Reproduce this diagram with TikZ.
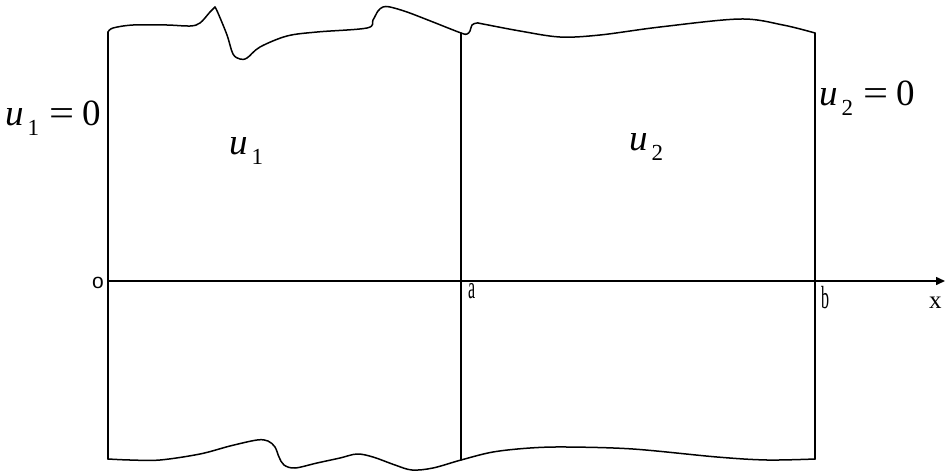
\documentclass[tikz,border=0pt]{standalone}
\usepackage{fontspec}
\setmainfont{Liberation Serif}
\newfontfamily\sansf{Liberation Sans}
\usetikzlibrary{arrows.meta}
\newcommand\ulab[1]{\textit{u}\kern4pt\raisebox{-10pt}{\fontsize{23}{23}\selectfont #1}}
\newcommand\eqsign{\scalebox{1.2}[1]{=}}
\begin{document}
\begin{tikzpicture}[x=1pt,y=-1pt,
  edge/.style={line width=1.5pt, line join=round, line cap=round},
  big/.style={inner sep=0pt, anchor=base west, font=\fontsize{37}{37}\selectfont},
  small/.style={inner sep=0pt, anchor=base west, font=\fontsize{32}{32}\selectfont},
  tick/.style={inner sep=0pt, anchor=base west, font=\fontsize{25}{25}\selectfont}]
\useasboundingbox (0,0) rectangle (946,472);
% corners
\coordinate (TL) at (108,32);
\coordinate (BL) at (108,459);
\coordinate (TM) at (461,33);
\coordinate (BM) at (461,460);
\coordinate (TR) at (815,33);
\coordinate (BR) at (815,459);
\coordinate (O) at (108,281);
\coordinate (A) at (461,281);
\coordinate (B) at (815,281);
\coordinate (X) at (945,281);
% vertical lines
\draw[edge] (TL) -- (BL);
\draw[edge] (TM) -- (BM);
\draw[edge] (TR) -- (BR);
% axis
\draw[edge, -{Triangle[length=9pt,width=8pt]}] (O) -- (X);
% top boundary
\draw[edge] plot[smooth, tension=0.55] coordinates {(108,32) (113,28) (133,25) (167,25) (190,26) (200,23) (210,12) (215,7)};
\draw[edge] plot[smooth, tension=0.55] coordinates {(215,7) (218,13) (227,35) (233,54) (240,59) (247,58) (260,47) (287,36) (317,32) (367,28) (373,20) (378,11) (383,7) (390,7) (407,12) (433,22) (461,33) (467,34) (470,31) (472,25) (477,23) (483,24) (520,31) (560,37) (600,35) (660,27) (740,19) (783,25) (815,33)};
% bottom boundary
\draw[edge] plot[smooth, tension=0.55] coordinates {(108,459) (130,460) (160,460) (200,454) (230,446) (257,440) (268,441) (275,447) (279,457) (284,465) (295,468) (317,463) (340,458) (357,454) (373,457) (395,465) (412,470) (433,468) (461,460) (493,452) (530,448) (567,447) (633,449) (717,457) (767,460) (815,459)};
% labels
\node[big] (l1) at (5,125) {\ulab{1}\hspace{10pt}\eqsign\hspace{8pt}0};
\node[big] (l2) at (819,105) {\ulab{2}\hspace{10pt}\eqsign\hspace{8pt}0};
\node[big] (u1) at (229,154) {\ulab{1}};
\node[big] (u2) at (629,150) {\ulab{2}};
\node[inner sep=0pt, anchor=base west, font=\sansf\fontsize{21}{21}\selectfont] (lo) at (92,288) {o};
\node[small] (la) at (468,298) {\scalebox{0.5}[1]{a}};
\node[small] (lb) at (821,308) {\scalebox{0.5}[1]{b}};
\node[tick] (lx) at (929,308) {x};
\end{tikzpicture}
\end{document}
